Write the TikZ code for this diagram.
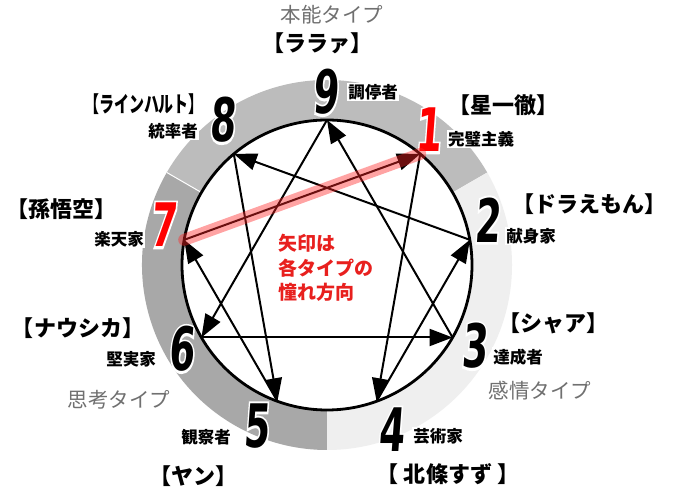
\documentclass[tikz,border=0pt]{standalone}
\usepackage{fontspec}
\usetikzlibrary{arrows.meta,calc}
\newfontfamily\jp{Noto Sans CJK JP}
\newfontfamily\numf[FakeSlant=0.12]{DejaVu Sans Bold}
\newfontfamily\numo[FakeSlant=0.12,FakeBold=8]{DejaVu Sans Bold}
\definecolor{ringtop}{HTML}{BCBCBC}
\definecolor{ringleft}{HTML}{A8A8A8}
\definecolor{ringright}{HTML}{EFEFEF}
\definecolor{typegray}{HTML}{707070}
\definecolor{hired}{HTML}{E8201E}
\tikzset{
  namelbl/.style={font=\jp\bfseries\fontsize{22}{22}\selectfont, inner sep=0pt},
  rolelbl/.style={font=\jp\bfseries\fontsize{16.5}{16.5}\selectfont, fill=white, inner sep=1.5pt},
  typelbl/.style={font=\jp\fontsize{20.5}{20.5}\selectfont, text=typegray, inner sep=0pt},
  redtxt/.style={font=\jp\bfseries\fontsize{19}{24.5}\selectfont, text=hired, inner sep=0pt},
  numback/.style={text=white, inner sep=0pt},
  numfront/.style={inner sep=0pt},
  arr/.style={line width=2pt, -{Triangle[length=23pt,width=17pt]}},
}
\newcommand\ennum[4]{% name, position, colour, digit
  \node[numback] (#1o) at (#2) {\scalebox{0.62}[1]{\fontsize{60}{60}\numo #4}};
  \node[numfront, text=#3] (#1) at (#2) {\scalebox{0.62}[1]{\fontsize{60}{60}\numf #4}};
}
\begin{document}
\begin{tikzpicture}[x=1pt,y=1pt]
\fill[white] (0,0) rectangle (676,497);
\useasboundingbox (0,0) rectangle (676,497);
\coordinate (c) at (327,232);
% ring
\fill[ringtop] ($(c)+(30:185)$) arc[start angle=30,end angle=150,radius=185] -- ($(c)+(150:145)$) arc[start angle=150,end angle=30,radius=145] -- cycle;
\fill[ringleft] ($(c)+(150:185)$) arc[start angle=150,end angle=270,radius=185] -- ($(c)+(270:145)$) arc[start angle=270,end angle=150,radius=145] -- cycle;
\fill[ringright] ($(c)+(-90:185)$) arc[start angle=-90,end angle=30,radius=185] -- ($(c)+(30:145)$) arc[start angle=30,end angle=-90,radius=145] -- cycle;
\draw[white,line width=1pt] ($(c)+(150:145)$) -- ($(c)+(150:185)$);
% numbers
\ennum{n9}{325,405}{black}{9}
\ennum{n8}{222,377}{black}{8}
\ennum{n1}{428,367}{red}{1}
\ennum{n2}{487,277}{black}{2}
\ennum{n3}{474,151}{black}{3}
\ennum{n4}{391,67}{black}{4}
\ennum{n5}{256,71}{black}{5}
\ennum{n6}{181,148}{black}{6}
\ennum{n7}{163,272}{red}{7}
% circle points
\coordinate (p9) at ($(c)+(90:145)$);
\coordinate (p1) at ($(c)+(50:145)$);
\coordinate (p2) at ($(c)+(10:145)$);
\coordinate (p3) at ($(c)+(-30:145)$);
\coordinate (p4) at ($(c)+(-70:145)$);
\coordinate (p5) at ($(c)+(-110:145)$);
\coordinate (p6) at ($(c)+(-150:145)$);
\coordinate (p7) at ($(c)+(170:145)$);
\coordinate (p8) at ($(c)+(130:145)$);
\draw[line width=2.8pt] (c) circle[radius=145];
% centre note
\node[redtxt, anchor=west, align=left] (note) at (278,229) {矢印は\\各タイプの\\憧れ方向};
% type labels
\node[typelbl] (tHonno) at (332,482) {本能タイプ};
\node[typelbl] (tKanjo) at (540,106) {感情タイプ};
\node[typelbl] (tShiko) at (119,97) {思考タイプ};
% names
\node[namelbl] (nm9) at (317,454) {【ララァ】};
\node[namelbl] (nm8) at (144,393) {\scalebox{0.68}[1]{\fontsize{22}{22}\selectfont【ラインハルト】}};
\node[namelbl] (nm1) at (503,392) {【星一徹】};
\node[namelbl] (nm2) at (589,293) {【ドラえもん】};
\node[namelbl] (nm7) at (61,288) {【孫悟空】};
\node[namelbl] (nm3) at (553,174) {【シャア】};
\node[namelbl] (nm6) at (78,169) {【ナウシカ】};
\node[namelbl] (nm5) at (193,21) {【ヤン】};
\node[namelbl] (nm4) at (448,23) {【 北條すず 】};
% roles
\node[rolelbl] (r9) at (373,405) {調停者};
\node[rolelbl] (r8) at (173,366) {統率者};
\node[rolelbl] (r1) at (481,358) {完璧主義};
\node[rolelbl] (r2) at (531,261) {献身家};
\node[rolelbl] (r7) at (119,258) {楽天家};
\node[rolelbl] (r3) at (518,140) {達成者};
\node[rolelbl] (r6) at (131,138) {堅実家};
\node[rolelbl] (r5) at (206,60) {観察者};
\node[rolelbl] (r4) at (438,61) {芸術家};
% arrows
\draw[arr] (p1) -- (p4);
\draw[arr] (p4) -- (p2);
\draw[arr] (p2) -- (p8);
\draw[arr] (p8) -- (p5);
\draw[arr] (p5) -- (p7);
\draw[arr] (p7) -- (p1);
\draw[arr] (p9) -- (p6);
\draw[arr] (p6) -- (p3);
\draw[arr] (p3) -- (p9);
% highlight
\draw[red!85!white, opacity=0.42, line width=12pt, line cap=round] (p7) -- (p1);
\end{tikzpicture}
\end{document}
